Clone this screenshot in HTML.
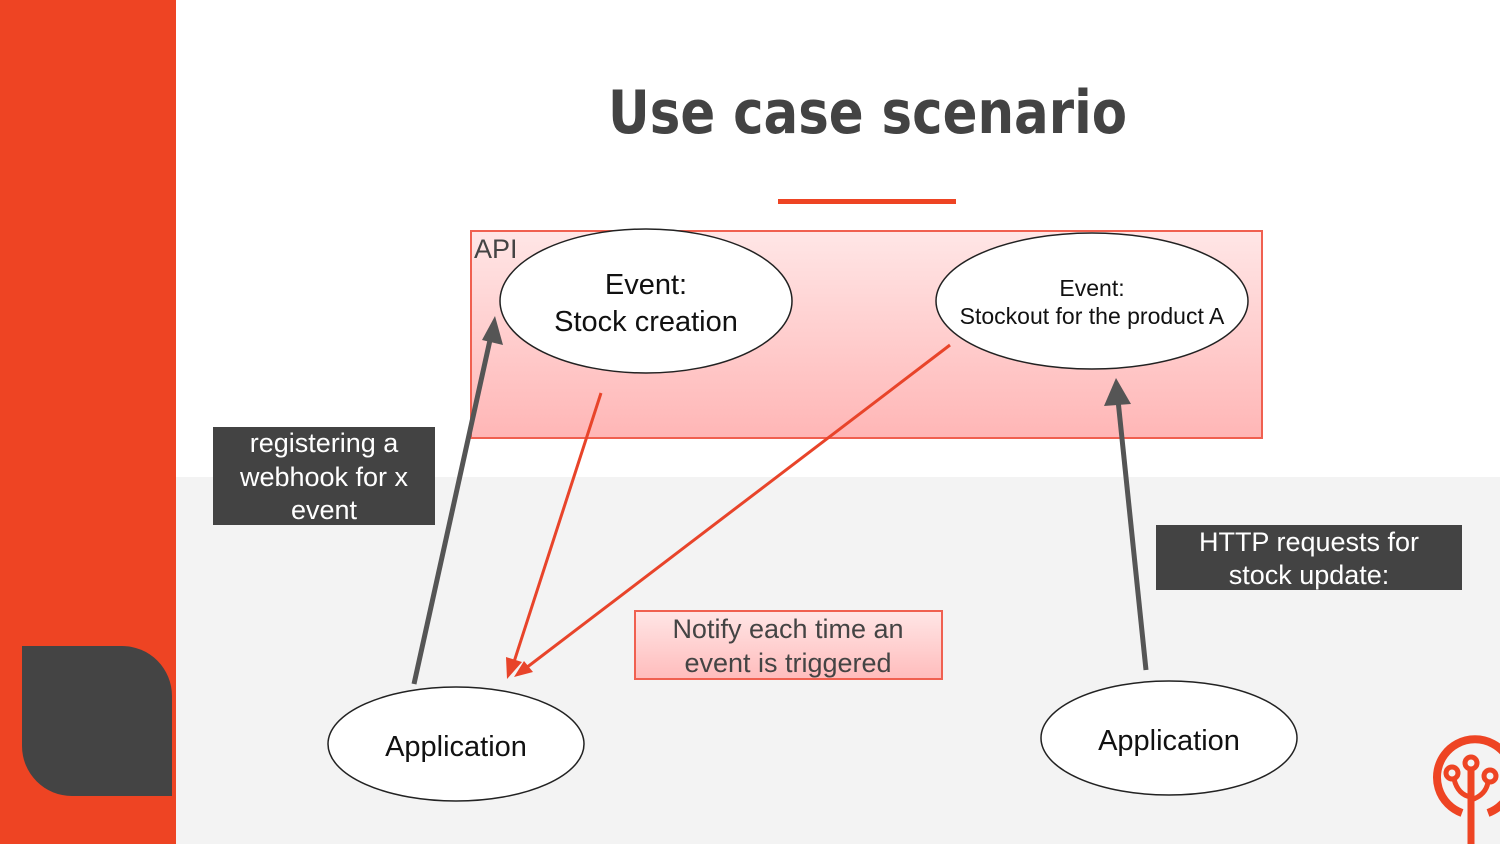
<!DOCTYPE html>
<html><head><meta charset="utf-8"><style>
html,body{margin:0;padding:0}
body{width:1500px;height:844px;overflow:hidden;font-family:"Liberation Sans",sans-serif}
</style></head><body>
<svg width="1500" height="844" viewBox="0 0 1500 844" xmlns="http://www.w3.org/2000/svg">
<defs>
<linearGradient id="g" x1="0" y1="0" x2="0" y2="1">
<stop offset="0" stop-color="#ffe6e6"/><stop offset="1" stop-color="#ffb6b6"/>
</linearGradient>
<linearGradient id="g2" x1="0" y1="0" x2="0" y2="1">
<stop offset="0" stop-color="#ffe6e6"/><stop offset="1" stop-color="#ffbcbc"/>
</linearGradient>
</defs>
<rect width="1500" height="844" fill="#fff"/>
<rect x="176" y="477" width="1324" height="367" fill="#f3f3f3"/>
<rect width="176" height="844" fill="#ee4423"/>
<path d="M22 646 H122 A50 50 0 0 1 172 696 V796 H72 A50 50 0 0 1 22 746 Z" fill="#444"/>
<text x="608" y="133" font-size="60" font-weight="bold" fill="#434343" font-family="DejaVu Sans, Liberation Sans, sans-serif" textLength="519" lengthAdjust="spacingAndGlyphs">Use case scenario</text>
<rect x="778" y="199" width="178" height="5" fill="#ee4423"/>
<rect x="471" y="231" width="791" height="207" fill="url(#g)" stroke="#f06050" stroke-width="2"/>
<text x="474" y="258" font-size="27" fill="#444">API</text>
<ellipse cx="646" cy="301" rx="146" ry="72" fill="#fff" stroke="#222" stroke-width="1.5"/>
<text x="646" y="294" text-anchor="middle" font-size="29" fill="#111">Event:</text>
<text x="646" y="331" text-anchor="middle" font-size="29" fill="#111">Stock creation</text>
<ellipse cx="1092" cy="301" rx="156" ry="68" fill="#fff" stroke="#222" stroke-width="1.5"/>
<text x="1092" y="296" text-anchor="middle" font-size="23" fill="#111">Event:</text>
<text x="1092" y="324" text-anchor="middle" font-size="23" fill="#111">Stockout for the product A</text>
<ellipse cx="456" cy="744" rx="128" ry="57" fill="#fff" stroke="#222" stroke-width="1.5"/>
<text x="456" y="756" text-anchor="middle" font-size="29" fill="#111">Application</text>
<ellipse cx="1169" cy="738" rx="128" ry="57" fill="#fff" stroke="#222" stroke-width="1.5"/>
<text x="1169" y="750" text-anchor="middle" font-size="29" fill="#111">Application</text>
<line x1="414" y1="684" x2="490" y2="340" stroke="#555" stroke-width="5"/>
<polygon points="495,316 503,345 482,340" fill="#555"/>
<line x1="1146" y1="670" x2="1118" y2="400" stroke="#555" stroke-width="5"/>
<polygon points="1116,378 1131,404 1104,406" fill="#555"/>
<line x1="601" y1="393" x2="513" y2="665" stroke="#e8442a" stroke-width="3"/>
<polygon points="507,679 506,657 522,662" fill="#e8442a"/>
<line x1="950" y1="345" x2="526" y2="668" stroke="#e8442a" stroke-width="3"/>
<polygon points="514,677 524,661 533,672" fill="#e8442a"/>
<rect x="213" y="427" width="222" height="98" fill="#434343"/>
<text x="324" y="452" text-anchor="middle" font-size="27" fill="#fff">registering a</text>
<text x="324" y="486" text-anchor="middle" font-size="27" fill="#fff">webhook for x</text>
<text x="324" y="519" text-anchor="middle" font-size="27" fill="#fff">event</text>
<rect x="1156" y="525" width="306" height="65" fill="#434343"/>
<text x="1309" y="551" text-anchor="middle" font-size="27" fill="#fff">HTTP requests for</text>
<text x="1309" y="584" text-anchor="middle" font-size="27" fill="#fff">stock update:</text>
<rect x="635" y="611" width="307" height="68" fill="url(#g2)" stroke="#f06050" stroke-width="2"/>
<text x="788" y="638" text-anchor="middle" font-size="27" fill="#444">Notify each time an</text>
<text x="788" y="672" text-anchor="middle" font-size="27" fill="#444">event is triggered</text>
<path d="M1462 813 A38 38 0 1 1 1488 813" fill="none" stroke="#ee4423" stroke-width="8"/>
<line x1="1471" y1="768" x2="1471" y2="844" stroke="#ee4423" stroke-width="7"/>
<circle cx="1471" cy="763" r="6" fill="none" stroke="#ee4423" stroke-width="5"/>
<circle cx="1452" cy="773" r="6" fill="none" stroke="#ee4423" stroke-width="5"/>
<circle cx="1490" cy="776" r="6" fill="none" stroke="#ee4423" stroke-width="5"/>
<path d="M1454 779 Q1458 795 1471 797 M1488 782 Q1486 795 1471 800" fill="none" stroke="#ee4423" stroke-width="5"/>
</svg>
</body></html>
